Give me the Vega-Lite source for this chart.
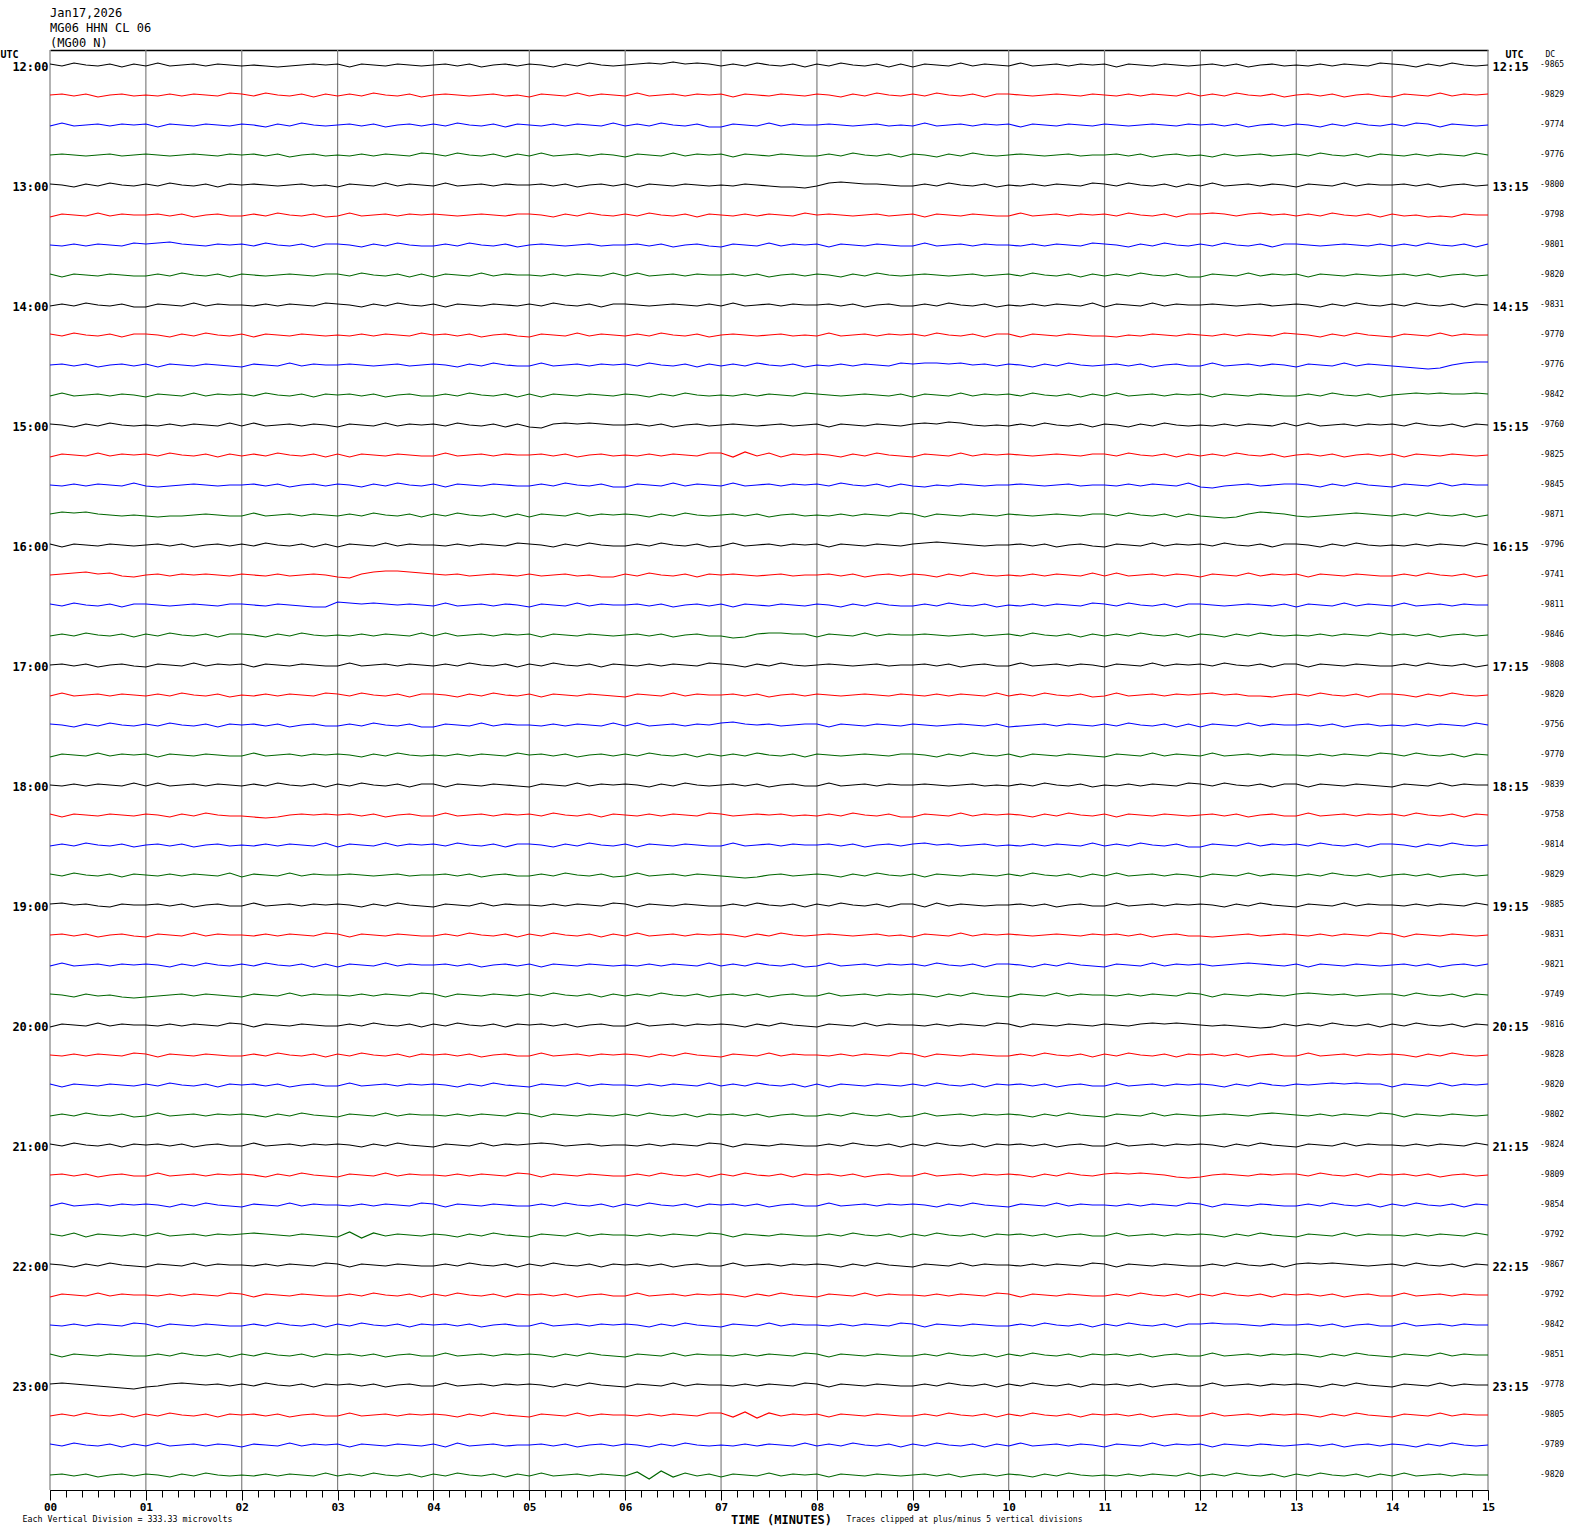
{
"$schema": "https://vega.github.io/schema/vega-lite/v6.json",
"width": 1438,
"height": 1440,
"autosize": {"type": "none"},
"padding": {"left": 50, "top": 50, "right": 82, "bottom": 44},
"background": "white",
"title": {"text": ["Jan17,2026", "MG06 HHN CL 06", "(MG00 N)"], "anchor": "start", "frame": "group", "font": "DejaVu Sans Mono", "fontSize": 12, "fontWeight": "normal", "lineHeight": 15, "offset": -1, "color": "black"},
"config": {"view": {"stroke": null}, "axis": {"labelColor": "black", "titleColor": "black", "domainColor": "black", "tickColor": "black"}},
"datasets": {
"minutes": [{"m":0},{"m":1},{"m":2},{"m":3},{"m":4},{"m":5},{"m":6},{"m":7},{"m":8},{"m":9},{"m":10},{"m":11},{"m":12},{"m":13},{"m":14},{"m":15}],
"secs": [{"s":0},{"s":900}],
"dc": [{"k":0,"dc":-9865},{"k":1,"dc":-9829},{"k":2,"dc":-9774},{"k":3,"dc":-9776},{"k":4,"dc":-9800},{"k":5,"dc":-9798},{"k":6,"dc":-9801},{"k":7,"dc":-9820},{"k":8,"dc":-9831},{"k":9,"dc":-9770},{"k":10,"dc":-9776},{"k":11,"dc":-9842},{"k":12,"dc":-9760},{"k":13,"dc":-9825},{"k":14,"dc":-9845},{"k":15,"dc":-9871},{"k":16,"dc":-9796},{"k":17,"dc":-9741},{"k":18,"dc":-9811},{"k":19,"dc":-9846},{"k":20,"dc":-9808},{"k":21,"dc":-9820},{"k":22,"dc":-9756},{"k":23,"dc":-9770},{"k":24,"dc":-9839},{"k":25,"dc":-9758},{"k":26,"dc":-9814},{"k":27,"dc":-9829},{"k":28,"dc":-9885},{"k":29,"dc":-9831},{"k":30,"dc":-9821},{"k":31,"dc":-9749},{"k":32,"dc":-9816},{"k":33,"dc":-9828},{"k":34,"dc":-9820},{"k":35,"dc":-9802},{"k":36,"dc":-9824},{"k":37,"dc":-9809},{"k":38,"dc":-9854},{"k":39,"dc":-9792},{"k":40,"dc":-9867},{"k":41,"dc":-9792},{"k":42,"dc":-9842},{"k":43,"dc":-9851},{"k":44,"dc":-9778},{"k":45,"dc":-9805},{"k":46,"dc":-9789},{"k":47,"dc":-9820}],
"traces": [
{"k":0,"q":0,"v":[1,-1,2,0,-1,1,-2,1,-1,2,-1,0,1,-1,1,0,-1,0,-1,-2,-1,0,1,0,1,-2,1,0,-1,1,0,-1,0,1,-1,1,-2,0,1,-1,1,0,-2,1,-1,2,0,-1,0,1,2,1,3,1,2,1,-1,1,-1,2,0,-1,1,-2,1,-1,2,0,-1,1,-2,1,-2,1,0,-1,2,-1,1,0,-1,2,-1,0,1,-1,1,0,1,-2,1,0,-1,1,0,-1,0,1,-1,1,-2,0,1,-1,0,-1,1,-1,1,0,-1,2,1,0,-2,1,-1,2,0,-1,0]},
{"k":1,"q":1,"v":[0,1,-1,1,-2,0,1,-1,0,-1,1,-1,1,0,-1,2,1,-1,2,0,-1,1,-2,1,-1,1,-1,2,0,-1,1,-2,0,1,0,-1,0,1,-1,0,-2,1,0,-1,2,-1,1,0,-1,2,-1,0,1,-1,1,0,1,-2,1,0,-1,1,0,-1,1,0,-2,1,-1,2,0,-1,1,-1,2,0,-1,1,-2,1,1,0,-1,0,1,0,-1,1,0,-1,1,-1,1,0,-1,2,-1,1,-1,2,0,-1,1,-2,0,1,-1,1,-2,0,1,-1,-2,1,0,-1,2,-1,1,0,1]},
{"k":2,"q":2,"v":[-1,2,-1,0,1,-1,1,0,1,-2,1,0,-1,1,0,-1,1,0,-2,1,-1,2,0,-1,0,1,-1,1,-2,0,1,-1,1,-1,2,0,-1,1,-2,1,0,-1,1,-1,1,0,-1,2,-1,1,-1,2,0,-1,1,-2,-2,1,0,-1,2,-1,1,0,0,1,0,-1,0,1,-1,0,-1,2,-1,0,1,-1,1,0,1,-2,1,0,-1,1,0,-1,1,0,-1,0,1,0,-1,1,0,1,-1,1,-2,0,1,-1,1,0,-2,1,-1,2,0,-1,1,-1,2,1,-2,1,0,-1,0]},
{"k":3,"q":3,"v":[0,1,0,-1,0,1,-1,0,1,0,-1,0,1,0,-1,1,0,1,-1,1,-2,0,1,-1,0,-1,1,-1,1,0,-1,2,1,-1,2,0,-1,1,-2,1,-1,2,-1,0,1,-1,1,0,-2,1,0,-1,2,-1,1,0,1,-2,1,0,-1,1,0,-1,-1,1,-1,2,0,-1,1,-2,1,0,-2,1,-1,2,0,-1,0,1,0,-1,0,1,-1,0,0,1,-1,1,-2,0,1,-1,0,-2,1,-1,0,1,-1,0,1,-1,2,0,-1,1,-2,1,0,-1,1,-1,1,0,-1,2,0]},
{"k":4,"q":0,"v":[1,0,-2,1,-1,2,0,-1,1,-1,2,0,-1,1,-2,1,0,1,0,-1,0,1,-1,0,-2,1,0,-1,2,-1,1,0,-1,2,-1,0,1,-1,1,0,0,1,-1,1,-2,0,1,-1,1,-2,1,0,-1,1,0,-1,0,-1,1,0,-1,-2,-2,-3,-1,2,3,2,1,1,0,-1,-1,1,-1,2,0,-1,1,-2,0,-1,1,-1,1,0,-1,2,1,-1,2,0,-1,1,-2,1,-1,2,-1,0,1,-1,1,0,-2,1,0,-1,2,-1,1,0,0,1,-1,1,-2,0,1,-1,0]},
{"k":5,"q":1,"v":[-2,1,0,-1,2,-1,1,0,0,1,-1,1,-2,0,1,-1,-1,1,-1,2,0,-1,1,-2,-1,2,-1,0,1,-1,1,0,1,0,-1,0,1,0,-1,1,1,0,-2,1,-1,2,0,-1,1,-1,2,0,-1,1,-2,1,0,-1,1,-1,1,0,-1,2,0,1,0,-1,0,1,-1,0,1,-2,1,0,-1,1,0,-1,-1,2,-1,0,1,-1,1,0,1,-1,2,0,-1,1,-2,1,1,2,1,-1,1,2,0,1,-1,1,-1,2,0,-1,1,-2,1,-1,0,-2,-1,-2,1,0,0]},
{"k":6,"q":2,"v":[0,-1,1,-1,1,0,-1,2,1,2,3,1,0,-1,1,0,1,-1,2,0,-1,1,-2,1,1,0,-2,1,-1,2,0,-1,-1,1,-1,2,0,-1,1,-2,0,1,0,-1,0,1,-1,0,0,1,-1,1,-2,0,1,-1,-2,1,0,-1,2,-1,1,0,1,-2,1,0,-1,1,0,-1,-1,2,-1,0,1,-1,1,0,0,-1,1,-1,1,0,-1,2,1,0,-2,1,-1,2,0,-1,1,-1,2,0,-1,1,-2,1,1,0,-1,0,1,0,-1,1,-1,1,-1,2,0,-1,1,-2,1]},
{"k":7,"q":3,"v":[1,-2,1,0,-1,1,0,-1,-1,1,-1,2,0,-1,1,-2,1,0,-1,0,1,0,-1,1,1,-1,2,0,-1,1,-2,1,-2,1,0,-1,2,-1,1,0,0,-1,1,-1,1,0,-1,2,-1,2,-1,0,1,-1,1,0,0,1,-1,1,-2,0,1,-1,1,0,-2,1,-1,2,0,-1,0,1,0,-1,0,1,-1,0,1,-1,2,0,-1,1,-2,1,-1,1,-1,2,0,-1,1,-2,-2,1,0,-1,2,-1,1,0,1,-2,1,0,-1,1,0,-1,0,1,-1,1,-2,0,1,-1,0]},
{"k":8,"q":0,"v":[-1,1,-1,2,0,-1,1,-2,-2,1,0,-1,2,-1,1,0,0,-1,1,-1,1,0,-1,2,1,0,-2,1,-1,2,0,-1,1,-2,1,0,-1,1,0,-1,1,-1,2,0,-1,1,-2,1,1,0,-1,0,1,0,-1,1,-1,2,-1,0,1,-1,1,0,0,1,-1,1,-2,0,1,-1,-1,1,-1,2,0,-1,1,-2,0,-1,1,-1,1,0,-1,2,-2,1,0,-1,2,-1,1,0,0,1,0,-1,0,1,-1,0,1,0,-2,1,-1,2,0,-1,1,-1,2,0,-1,1,-2,1,0]},
{"k":9,"q":1,"v":[1,-1,2,0,-1,1,-2,1,1,0,-2,1,-1,2,0,-1,1,-2,1,0,-1,1,0,-1,0,-1,1,-1,1,0,-1,2,0,1,-1,1,-2,0,1,-1,-2,1,0,-1,2,-1,1,0,-1,1,-1,2,0,-1,1,-2,0,1,0,-1,0,1,-1,0,-1,2,-1,0,1,-1,1,0,1,-1,2,0,-1,1,-2,1,1,-2,1,0,-1,1,0,-1,-1,-2,0,-1,1,0,-1,1,0,-1,1,-1,1,0,-1,2,1,0,-2,1,-1,2,0,-1,-2,1,0,-1,2,-1,1,0,0]},
{"k":10,"q":2,"v":[0,1,-1,1,-2,0,1,-1,1,-2,1,0,-1,1,0,-1,-2,1,0,-1,2,-1,1,0,0,1,0,-1,0,1,-1,0,1,0,-2,1,-1,2,0,-1,-1,2,-1,0,1,-1,1,0,1,-1,2,0,-1,1,-2,1,-1,1,-1,2,0,-1,1,-2,0,-1,1,-1,1,0,-1,2,1,2,2,1,2,0,1,-1,1,0,-2,1,-1,2,0,-1,0,1,-1,1,-2,0,1,-1,-1,2,-1,0,1,-1,1,0,-2,1,0,-1,2,-1,1,0,-1,-2,-3,-4,-3,0,2,3,3]},
{"k":11,"q":3,"v":[-1,2,-1,0,1,-1,1,0,-2,1,0,-1,2,-1,1,0,1,-1,2,0,-1,1,-2,1,0,1,-1,1,-2,0,1,-1,-1,1,-1,2,0,-1,1,-2,1,-2,1,0,-1,1,0,-1,1,0,-2,1,-1,2,0,-1,0,-1,1,-1,1,0,-1,2,1,0,-1,0,1,0,-1,1,-2,1,0,-1,2,-1,1,0,1,-1,2,0,-1,1,-2,1,-1,2,-1,0,1,-1,1,0,1,-2,1,0,-1,1,0,-1,-1,1,-1,2,0,-1,1,-2,0,1,2,1,2,1,1,2,1]},
{"k":12,"q":0,"v":[1,0,-2,1,-1,2,0,-1,0,-1,1,-1,1,0,-1,2,-1,2,-1,0,1,-1,1,0,-2,1,0,-1,2,-1,1,0,1,-1,2,0,-1,1,-2,1,-2,-3,1,2,1,2,1,0,0,1,-1,1,-2,0,1,-1,0,1,0,-1,0,1,-1,0,1,-2,1,0,-1,1,0,-1,1,2,1,3,2,0,-1,0,-1,1,-1,2,0,-1,1,-2,1,0,-2,1,-1,2,0,-1,0,-1,1,-1,1,0,-1,2,-1,2,-1,0,1,-1,1,0,1,-1,2,0,-1,1,-2,1,0]},
{"k":13,"q":1,"v":[-2,1,0,-1,2,-1,1,0,1,-1,2,0,-1,1,-2,1,-1,1,-1,2,0,-1,1,-2,1,-2,1,0,-1,1,0,-1,-1,2,-1,0,1,-1,1,0,0,1,-1,1,-2,0,1,-1,0,-1,1,-1,1,0,-1,2,2,-2,3,-1,2,-2,1,0,1,0,-2,1,-1,2,0,-1,-2,1,0,-1,2,-1,1,0,1,0,-1,0,1,0,-1,1,1,-1,2,0,-1,1,-2,1,-1,1,-1,2,0,-1,1,-2,0,1,-1,1,-2,0,1,-1,1,-2,1,0,-1,1,0,-1,0]},
{"k":14,"q":2,"v":[0,-1,1,-1,1,0,-1,2,-1,-2,-1,0,1,0,-1,0,0,1,-1,1,-2,0,1,-1,1,0,-2,1,-1,2,0,-1,1,-2,1,0,-1,1,0,-1,-1,1,-1,2,0,-1,1,-2,-2,1,0,-1,2,-1,1,0,-1,2,-1,0,1,-1,1,0,1,-1,2,0,-1,1,-2,1,-1,-2,0,-1,1,0,-1,0,0,1,0,-1,0,1,-1,0,0,-1,1,-1,1,0,-1,2,-2,-3,-1,0,1,-1,0,1,1,0,-2,1,-1,2,0,-1,-2,1,0,-1,2,-1,1,0,0]},
{"k":15,"q":3,"v":[1,3,2,3,1,0,-1,0,-1,-2,-1,-1,0,1,0,-1,-1,2,-1,0,1,-1,1,0,-1,1,-1,2,0,-1,1,-2,1,-1,2,0,-1,1,-2,1,-2,1,0,-1,2,-1,1,0,1,0,-2,1,-1,2,0,-1,0,1,-1,1,-2,0,1,-1,0,-1,1,-1,1,0,-1,2,1,-2,1,0,-1,1,0,-1,1,0,-1,0,1,0,-1,1,1,-1,2,0,-1,1,-2,1,-1,-2,-3,-2,1,3,2,1,-1,-2,-1,0,1,2,1,0,-1,1,-1,2,0,-1,1,-2,0]},
{"k":16,"q":0,"v":[1,-2,1,0,-1,1,0,-1,0,1,-1,1,-2,0,1,-1,1,-1,2,0,-1,1,-2,1,-2,1,0,-1,2,-1,1,0,0,-1,1,-1,1,0,-1,2,1,0,-2,1,-1,2,0,-1,-1,1,-1,2,0,-1,1,-2,-1,2,-1,0,1,-1,1,0,1,-2,1,0,-1,1,0,-1,1,2,3,2,1,0,-1,0,0,1,-1,1,-2,0,1,-1,-2,1,0,-1,2,-1,1,0,1,-1,2,0,-1,1,-2,1,1,0,-2,1,-1,2,0,-1,0,-1,1,-1,1,0,-1,2,0]},
{"k":17,"q":1,"v":[0,1,2,3,1,2,-1,-2,0,1,-1,1,0,1,0,-1,1,0,-1,1,-1,0,1,0,-2,-3,1,3,4,4,3,2,1,0,1,-1,0,1,0,-1,1,-1,0,1,-1,0,-2,-2,1,-1,2,0,-1,1,-2,1,0,1,0,-1,0,1,-1,0,0,1,-1,1,-2,0,1,-1,1,0,-2,1,-1,2,0,-1,0,-1,1,-1,1,0,-1,2,-1,2,-1,0,1,-1,1,0,-2,1,0,-1,2,-1,1,0,1,-2,1,0,-1,1,0,-1,-1,1,-1,2,0,-1,1,-2,0]},
{"k":18,"q":2,"v":[1,-1,2,0,-1,1,-2,1,1,0,-1,0,1,0,-1,1,1,0,-1,1,0,-1,-2,-2,3,2,1,2,1,0,1,0,-1,2,-1,0,1,-1,1,0,-2,1,0,-1,2,-1,1,0,0,1,-1,1,-2,0,1,-1,1,-2,1,0,-1,1,0,-1,1,0,-2,1,-1,2,0,-1,-1,1,-1,2,0,-1,1,-2,0,-1,1,-1,1,0,-1,2,1,-1,2,0,-1,1,-2,1,1,0,-1,0,1,0,-1,1,-2,1,0,-1,2,-1,1,0,-1,2,-1,0,1,-1,1,0,0]},
{"k":19,"q":3,"v":[-1,1,-1,2,0,-1,1,-2,1,-1,2,0,-1,1,-2,1,1,0,-2,1,-1,2,0,-1,0,-1,1,-1,1,0,-1,2,-1,2,-1,0,1,-1,1,0,1,-2,1,0,-1,1,0,-1,0,1,-1,1,-2,0,1,-1,-1,-3,-2,1,2,2,1,1,-2,1,0,-1,2,-1,1,0,0,1,0,-1,0,1,-1,0,1,-1,2,0,-1,1,-2,1,-1,1,-1,2,0,-1,1,-2,1,0,-2,1,-1,2,0,-1,0,-1,1,-1,1,0,-1,2,0,1,-1,1,-2,0,1,-1,0]},
{"k":20,"q":0,"v":[0,1,-1,1,-2,0,1,-1,-2,1,0,-1,2,-1,1,0,1,-2,1,0,-1,1,0,-1,-1,2,-1,0,1,-1,1,0,-1,1,-1,2,0,-1,1,-2,1,-1,2,0,-1,1,-2,1,0,-1,1,-1,1,0,-1,2,1,0,-2,1,-1,2,0,-1,0,1,0,-1,0,1,-1,0,0,1,-1,1,-2,0,1,-1,-1,2,-1,0,1,-1,1,0,-2,1,0,-1,2,-1,1,0,1,-1,2,0,-1,1,-2,1,1,-2,1,0,-1,1,0,-1,-1,1,-1,2,0,-1,1,-2,0]},
{"k":21,"q":1,"v":[-1,2,-1,0,1,-1,1,0,-1,1,-1,2,0,-1,1,-2,0,-1,1,-1,1,0,-1,2,1,-1,2,0,-1,1,-2,1,1,0,-2,1,-1,2,0,-1,1,-2,1,0,-1,1,0,-1,-2,1,0,-1,2,-1,1,0,0,1,-1,1,-2,0,1,-1,1,0,-1,0,1,0,-1,1,0,-1,1,-1,1,0,-1,2,-1,1,-1,2,0,-1,1,-2,-1,2,-1,0,1,-1,1,0,1,2,0,1,-1,-1,-2,0,1,-1,2,0,-1,1,-2,1,1,0,-2,1,-1,2,0,-1,0]},
{"k":22,"q":2,"v":[1,0,-2,1,-1,2,0,-1,1,-1,2,0,-1,1,-2,1,0,1,-1,1,-2,0,1,-1,-1,1,-1,2,0,-1,1,-2,-2,1,0,-1,2,-1,1,0,0,-1,1,-1,1,0,-1,2,-1,2,-1,0,1,-1,1,0,2,3,1,0,1,-1,0,1,1,-2,1,0,-1,1,0,-1,1,0,-1,0,1,0,-1,1,-2,-1,0,1,-1,1,0,-1,1,-1,2,0,-1,1,-2,1,-2,1,0,-1,2,-1,1,0,0,1,-1,1,-2,0,1,-1,0,-1,1,-1,1,0,-1,2,0]},
{"k":23,"q":3,"v":[-2,1,0,-1,2,-1,1,0,1,-2,1,0,-1,1,0,-1,-1,2,-1,0,1,-1,1,0,1,0,-2,1,-1,2,0,-1,0,-1,1,-1,1,0,-1,2,0,1,-1,1,-2,0,1,-1,1,-1,2,0,-1,1,-2,1,-1,1,-1,2,0,-1,1,-2,1,0,-1,0,1,0,-1,1,1,0,-2,1,-1,2,0,-1,1,-2,1,0,-1,1,0,-1,-2,1,0,-1,2,-1,1,0,-1,2,-1,0,1,-1,1,0,0,-1,1,-1,1,0,-1,2,1,-1,2,0,-1,1,-2,1,0]},
{"k":24,"q":0,"v":[0,-1,1,-1,1,0,-1,2,-1,2,-1,0,1,-1,1,0,-1,1,-1,2,0,-1,1,-2,1,-1,2,0,-1,1,-2,1,1,-2,1,0,-1,1,0,-1,-2,1,0,-1,2,-1,1,0,1,0,-2,1,-1,2,0,-1,0,1,-1,1,-2,0,1,-1,-1,2,-1,0,1,-1,1,0,0,1,0,-1,0,1,-1,0,-1,1,-1,2,0,-1,1,-2,0,-1,1,-1,1,0,-1,2,1,-1,2,0,-1,1,-2,1,1,-2,1,0,-1,1,0,-1,-2,1,0,-1,2,-1,1,0,0]},
{"k":25,"q":1,"v":[1,-2,1,0,-1,1,0,-1,1,0,-2,1,-1,2,0,-1,-1,-2,-3,-2,0,1,0,1,0,1,-1,1,-2,0,1,-1,-1,2,-1,0,1,-1,1,0,1,-1,2,0,-1,1,-2,1,0,-1,1,-1,1,0,-1,2,1,-1,0,1,0,1,-1,0,-1,1,-1,2,0,-1,1,-2,-2,1,0,-1,2,-1,1,0,1,0,-2,1,-1,2,0,-1,1,-2,1,0,-1,1,0,-1,0,1,-1,1,-2,0,1,-1,-1,2,-1,0,1,-1,1,0,1,-1,2,0,-1,1,-2,1,0]},
{"k":26,"q":2,"v":[-1,1,-1,2,0,-1,1,-2,0,1,-1,1,-2,0,1,-1,0,-1,1,-1,1,0,-1,2,-2,1,0,-1,2,-1,1,0,1,-1,2,0,-1,1,-2,1,1,0,-2,1,-1,2,0,-1,1,-2,1,0,-1,1,0,-1,-1,2,-1,0,1,-1,1,0,0,1,-1,1,-2,0,1,-1,1,2,0,1,-1,0,1,-1,0,-1,1,-1,1,0,-1,2,-1,1,-1,2,0,-1,1,-2,-2,1,0,-1,2,-1,1,0,1,-1,2,0,-1,1,-2,1,1,0,-2,1,-1,2,0,-1,0]},
{"k":27,"q":3,"v":[1,-1,2,0,-1,1,-2,1,0,-1,1,-1,1,0,-1,2,-2,1,0,-1,2,-1,1,0,0,1,0,-1,0,1,-1,0,0,1,-1,1,-2,0,1,-1,-1,1,-1,2,0,-1,1,-2,-1,2,-1,0,1,-1,1,0,-1,-2,-3,-2,0,1,-1,0,1,0,-2,1,-1,2,0,-1,1,-2,1,0,-1,1,0,-1,1,-1,2,0,-1,1,-2,1,-1,2,-1,0,1,-1,1,0,-2,1,0,-1,2,-1,1,0,-1,1,-1,2,0,-1,1,-2,0,1,-1,1,-2,0,1,-1,0]},
{"k":28,"q":0,"v":[1,2,0,1,-1,-2,1,0,0,1,-1,1,-2,0,1,-1,-1,2,-1,0,1,-1,1,0,1,0,-2,1,-1,2,0,-1,-2,1,0,-1,2,-1,1,0,0,-1,1,-1,1,0,-1,2,1,-2,1,0,-1,1,0,-1,-1,1,-1,2,0,-1,1,-2,1,-1,2,0,-1,1,-2,1,1,-2,2,-1,1,0,-1,0,0,1,-1,1,-2,0,1,-1,-1,2,-1,0,1,-1,1,0,1,0,-2,1,-1,2,0,-1,-2,1,0,-1,2,-1,1,0,0,-1,1,-1,1,0,-1,2,0]},
{"k":29,"q":1,"v":[0,1,-1,1,-2,0,1,-1,-2,1,0,-1,2,-1,1,0,0,-1,1,-1,1,0,-1,2,1,-2,1,0,-1,1,0,-1,-1,1,-1,2,0,-1,1,-2,1,-1,2,0,-1,1,-2,1,-1,2,-1,0,1,-1,1,0,1,0,-2,1,-1,2,0,-1,0,1,0,-1,0,1,-1,0,-2,1,0,-1,2,-1,1,0,1,0,-1,0,1,0,-1,1,0,1,-1,1,-2,0,1,-1,-1,-2,-1,0,1,-1,0,1,0,-1,1,-1,1,0,-1,2,1,-2,1,0,-1,1,0,-1,0]},
{"k":30,"q":2,"v":[-1,2,-1,0,1,-1,1,0,1,0,-2,1,-1,2,0,-1,1,-1,2,0,-1,1,-2,1,-2,1,0,-1,2,-1,1,0,0,1,-1,1,-2,0,1,-1,1,-2,1,0,-1,1,0,-1,0,-1,1,-1,1,0,-1,2,-1,1,-1,2,0,-1,1,-2,-1,2,-1,0,1,-1,1,0,1,-1,2,0,-1,1,-2,1,1,0,-2,1,-1,2,0,-1,-2,1,0,-1,2,-1,1,0,1,-1,0,1,2,1,0,-1,1,-2,1,0,-1,1,0,-1,0,1,-1,1,-2,0,1,-1,1]},
{"k":31,"q":3,"v":[1,0,-2,1,-1,0,-2,-3,-2,-1,0,1,-1,1,0,-1,-2,1,0,-1,2,-1,1,0,0,-1,1,-1,1,0,-1,2,1,-2,1,0,-1,1,0,-1,1,-1,2,0,-1,1,-2,1,-1,1,-1,2,0,-1,1,-2,0,1,-1,1,-2,0,1,-1,-1,2,-1,0,1,-1,1,0,1,0,-2,1,-1,2,0,-1,-2,1,0,-1,2,-1,1,0,0,-1,1,-1,1,0,-1,2,1,-2,1,0,-1,1,0,-1,1,2,1,0,1,-1,0,1,1,-1,2,0,-1,1,-2,1,0]},
{"k":32,"q":0,"v":[-2,1,0,-1,2,-1,1,0,0,-1,1,-1,1,0,-1,2,1,-2,1,0,-1,1,0,-1,-1,1,-1,2,0,-1,1,-2,1,-1,2,0,-1,1,-2,1,0,1,-1,1,-2,0,1,-1,-1,2,-1,0,1,-1,1,0,1,0,-2,1,-1,2,0,-1,-2,1,0,-1,2,-1,1,0,0,-1,1,-1,1,0,-1,2,1,-2,1,0,-1,1,0,-1,1,0,-1,1,2,1,2,1,0,-1,0,-1,-2,-3,-2,1,-1,1,-1,2,0,-1,1,-2,1,-1,2,0,-1,1,-2,1,0]},
{"k":33,"q":1,"v":[0,-1,1,-1,1,0,-1,2,1,-2,1,0,-1,1,0,-1,-1,1,-1,2,0,-1,1,-2,1,-1,2,0,-1,1,-2,1,0,1,-1,1,-2,0,1,-1,-1,2,-1,0,1,-1,1,0,1,0,-2,1,-1,2,0,-1,-2,1,0,-1,2,-1,1,0,0,-1,1,-1,1,0,-1,2,1,-2,1,0,-1,1,0,-1,-1,1,-1,2,0,-1,1,-2,1,-1,2,0,-1,1,-2,1,0,1,-1,1,-2,0,1,-1,-1,2,-1,0,1,-1,1,0,1,0,-2,1,-1,2,0,-1,0]},
{"k":34,"q":2,"v":[1,-2,1,0,-1,1,0,-1,1,-1,2,0,-1,1,-2,1,0,1,-1,1,-2,0,1,-1,-1,2,-1,0,1,-1,1,0,1,0,-2,1,-1,2,0,-1,-2,1,0,-1,2,-1,1,0,0,-1,1,-1,1,0,-1,2,-1,1,-1,2,0,-1,1,-2,1,-2,1,0,-1,1,0,-1,1,-1,2,0,-1,1,-2,1,0,1,-1,1,-2,0,1,-1,-1,2,-1,0,1,-1,1,0,1,0,-2,1,-1,2,0,-1,1,0,1,2,1,2,1,1,-2,1,0,-1,2,-1,1,0,1]},
{"k":35,"q":3,"v":[-1,1,-1,2,0,-1,1,-2,-1,2,-1,0,1,-1,1,0,1,0,-2,1,-1,2,0,-1,-2,1,0,-1,2,-1,1,0,0,-1,1,-1,1,0,-1,2,1,-2,1,0,-1,1,0,-1,1,-1,2,0,-1,1,-2,1,0,1,-1,1,-2,0,1,-1,-1,1,-1,2,0,-1,1,-2,-1,2,-1,0,1,-1,1,0,1,0,-2,1,-1,2,0,-1,-2,1,0,-1,2,-1,1,0,-1,0,1,0,-1,1,2,1,0,-1,1,-1,1,0,-1,2,1,-2,1,0,-1,1,0,-1,0]},
{"k":36,"q":0,"v":[1,-1,2,0,-1,1,-2,1,0,1,-1,1,-2,0,1,-1,-1,2,-1,0,1,-1,1,0,1,0,-2,1,-1,2,0,-1,-2,1,0,-1,2,-1,1,0,1,2,1,-1,0,1,-1,0,0,-1,1,-1,1,0,-1,2,1,-2,1,0,-1,1,0,-1,-1,1,-1,2,0,-1,1,-2,1,-1,2,0,-1,1,-2,1,0,1,-1,1,-2,0,1,-1,-1,2,-1,0,1,-1,1,0,1,0,-2,1,-1,2,0,-1,-2,1,0,-1,2,-1,1,0,0,-1,1,-1,1,0,-1,2,0]},
{"k":37,"q":1,"v":[0,1,-1,1,-2,0,1,-1,-1,2,-1,0,1,-1,1,0,1,0,-2,1,-1,2,0,-1,-2,1,0,-1,2,-1,1,0,0,-1,1,-1,1,0,-1,2,1,-2,1,0,-1,1,0,-1,-1,1,-1,2,0,-1,1,-2,1,-1,2,0,-1,1,-2,1,0,1,-1,1,-2,0,1,-1,-1,2,-1,0,1,-1,1,0,1,0,-2,1,-1,2,0,-1,1,2,1,2,1,0,-2,-3,-2,0,1,0,-1,1,0,1,1,-1,2,0,-1,1,-2,1,0,1,-1,1,-2,0,1,-1,0]},
{"k":38,"q":2,"v":[-1,2,-1,0,1,-1,1,0,1,0,-2,1,-1,2,0,-1,-2,1,0,-1,2,-1,1,0,0,-1,1,-1,1,0,-1,2,1,-2,1,0,-1,1,0,-1,-1,1,-1,2,0,-1,1,-2,1,-1,2,0,-1,1,-2,1,0,1,-1,1,-2,0,1,-1,-1,2,-1,0,1,-1,1,0,1,0,-2,1,-1,2,0,-1,-2,1,0,-1,2,-1,1,0,0,-1,1,-1,1,0,-1,2,1,-2,1,0,-1,1,0,-1,-1,1,-1,2,0,-1,1,-2,1,-1,2,0,-1,1,-2,1,0]},
{"k":39,"q":3,"v":[1,-1,2,-2,1,0,-1,1,-1,2,-1,0,1,-1,1,0,1,2,1,0,-1,1,0,-1,-2,3,-3,2,-1,1,0,-1,1,0,-2,1,-1,2,0,-1,-2,1,0,-1,2,-1,1,0,0,-1,1,-1,1,0,-1,2,1,-2,1,0,-1,1,0,-1,-1,1,-1,2,0,-1,1,-2,1,-1,2,0,-1,1,-2,1,0,1,-1,1,-2,0,1,-1,-1,2,-1,0,1,-1,1,0,1,0,-2,1,-1,2,0,-1,-2,1,0,-1,2,-1,1,0,0,-1,1,-1,1,0,-1,2,0]},
{"k":40,"q":0,"v":[1,0,-2,1,-1,2,0,-1,-2,1,0,-1,2,-1,1,0,0,-1,1,-1,1,0,-1,2,1,-2,1,0,-1,1,0,-1,-1,1,-1,2,0,-1,1,-2,1,-1,2,0,-1,1,-2,1,0,1,-1,1,-2,0,1,-1,-1,2,-1,0,1,-1,1,0,1,0,-2,1,-1,2,0,-1,-2,1,0,-1,2,-1,1,0,0,-1,1,-1,1,0,-1,2,1,-2,1,0,-1,1,0,-1,-1,1,-1,2,0,-1,1,-2,1,2,1,2,1,0,-1,0,1,-1,2,0,-1,1,-2,1,0]},
{"k":41,"q":1,"v":[-2,1,0,-1,2,-1,1,0,0,-1,1,-1,1,0,-1,2,1,-2,1,0,-1,1,0,-1,-1,1,-1,2,0,-1,1,-2,1,-1,2,0,-1,1,-2,1,0,1,-1,1,-2,0,1,-1,-1,2,-1,0,1,-1,1,0,1,0,-2,1,-1,2,0,-1,-2,1,0,-1,2,-1,1,0,0,-1,1,-1,1,0,-1,2,1,-2,1,0,-1,1,0,-1,-1,1,-1,2,0,-1,1,-2,1,-1,2,0,-1,1,-2,1,0,1,-1,1,-2,0,1,-1,-1,2,-1,0,1,-1,1,0,0]},
{"k":42,"q":2,"v":[0,-1,1,-1,1,0,-1,2,1,-2,1,0,-1,1,0,-1,-1,1,-1,2,0,-1,1,-2,1,-1,2,0,-1,1,-2,1,0,1,-1,1,-2,0,1,-1,-1,2,-1,0,1,-1,1,0,1,0,-2,1,-1,2,0,-1,-2,1,0,-1,2,-1,1,0,0,-1,1,-1,1,0,-1,2,1,-2,1,0,-1,1,0,-1,-1,1,-1,2,0,-1,1,-2,1,-1,2,0,-1,1,-2,1,1,2,1,1,0,-1,1,0,0,1,-1,1,-2,0,1,-1,-1,2,-1,0,1,-1,1,0,0]},
{"k":43,"q":3,"v":[1,-2,1,0,-1,1,0,-1,-1,1,-1,2,0,-1,1,-2,1,-1,2,0,-1,1,-2,1,0,1,-1,1,-2,0,1,-1,-1,2,-1,0,1,-1,1,0,1,0,-2,1,-1,2,0,-1,-2,1,0,-1,2,-1,1,0,0,-1,1,-1,1,0,-1,2,1,-2,1,0,-1,1,0,-1,-1,1,-1,2,0,-1,1,-2,1,-1,2,0,-1,1,-2,1,0,1,-1,1,-2,0,1,-1,-1,2,-1,0,1,-1,1,0,1,0,-2,1,-1,2,0,-1,-2,1,0,-1,2,-1,1,0,0]},
{"k":44,"q":0,"v":[1,2,1,0,-1,-2,-3,-4,-2,-1,1,2,1,0,1,-1,1,-1,2,0,-1,1,-2,1,0,1,-1,1,-2,0,1,-1,-1,2,-1,0,1,-1,1,0,1,0,-2,1,-1,2,0,-1,-2,1,0,-1,2,-1,1,0,0,-1,1,-1,1,0,-1,2,1,-2,1,0,-1,1,0,-1,-1,1,-1,2,0,-1,1,-2,1,-1,2,0,-1,1,-2,1,0,1,-1,1,-2,0,1,-1,-1,2,-1,0,1,-1,1,0,1,0,-2,1,-1,2,0,-1,-2,1,0,-1,2,-1,1,0,0]},
{"k":45,"q":1,"v":[-1,1,-1,2,0,-1,1,-2,1,-1,2,0,-1,1,-2,1,0,1,-1,1,-2,0,1,-1,-1,2,-1,0,1,-1,1,0,1,0,-2,1,-1,2,0,-1,-2,1,0,-1,2,-1,1,0,0,-1,1,-1,1,0,-1,2,2,-2,3,-3,2,-1,1,0,1,-2,1,0,-1,1,0,-1,-1,1,-1,2,0,-1,1,-2,1,-1,2,0,-1,1,-2,1,0,1,-1,1,-2,0,1,-1,-1,2,-1,0,1,-1,1,0,1,0,-2,1,-1,2,0,-1,-2,1,0,-1,2,-1,1,0,0]},
{"k":46,"q":2,"v":[1,-1,2,0,-1,1,-2,1,-1,2,-1,0,1,-1,1,0,-2,1,0,-1,2,-1,1,0,1,-2,1,0,-1,1,0,-1,1,-2,2,-1,0,1,-1,0,0,1,-1,1,-2,0,1,-1,1,0,-2,1,-1,2,0,-1,0,-1,1,-1,1,0,-1,2,-1,1,-1,2,0,-1,1,-2,1,-1,2,0,-1,1,-2,1,-1,2,-1,0,1,-1,1,0,-2,1,0,-1,2,-1,1,0,1,-2,1,0,-1,1,0,-1,0,1,-1,1,-2,0,1,-1,1,0,-2,1,-1,2,0,-1,0]},
{"k":47,"q":3,"v":[0,1,-1,1,-2,0,1,-1,1,0,-2,1,-1,2,0,-1,0,-1,1,-1,1,0,-1,2,-1,1,-1,2,0,-1,1,-2,1,-1,2,0,-1,1,-2,1,-1,2,-1,0,1,-1,1,0,-1,3,-4,4,-2,2,-1,1,-2,1,0,-1,2,-1,1,0,1,-2,1,0,-1,1,0,-1,0,1,-1,1,-2,0,1,-1,1,0,-2,1,-1,2,0,-1,0,-1,1,-1,1,0,-1,2,-1,1,-1,2,0,-1,1,-2,1,-1,2,0,-1,1,-2,1,-1,2,-1,0,1,-1,1,0,0]}
]
},
"resolve": {"scale": {"x": "independent", "y": "shared"}, "axis": {"x": "independent", "y": "independent"}},
"layer": [
{
"data": {"name": "minutes"},
"mark": {"type": "rule", "color": "#808080", "strokeWidth": 1.2},
"encoding": {
"x": {"field": "m", "type": "quantitative", "scale": {"domain": [0, 15], "nice": false, "zero": false},
"axis": {"orient": "bottom", "values": [0,1,2,3,4,5,6,7,8,9,10,11,12,13,14,15], "format": "02d", "grid": false, "tickSize": 10, "tickWidth": 1, "domainWidth": 1, "labelFont": "DejaVu Sans Mono", "labelFontWeight": "bold", "labelFontSize": 11, "labelPadding": 1, "labelFlush": false, "labelOverlap": false, "title": "TIME (MINUTES)", "titleFont": "DejaVu Sans Mono", "titleFontWeight": "bold", "titleFontSize": 12, "titleX": 731, "titleY": 29, "titleAlign": "center", "titleBaseline": "middle"}}
}
},
{
"data": {"name": "secs"},
"mark": {"type": "rule", "opacity": 0},
"encoding": {
"x": {"field": "s", "type": "quantitative", "scale": {"domain": [0, 900], "nice": false, "zero": false},
"axis": {"orient": "bottom", "tickCount": 90, "labels": false, "domain": false, "grid": false, "tickSize": 7, "tickWidth": 1, "title": "Each Vertical Division =  333.33 microvolts", "titleFont": "DejaVu Sans Mono", "titleFontWeight": "normal", "titleFontSize": 8.3, "titleX": 77, "titleY": 29, "titleAlign": "center", "titleBaseline": "middle"}}
}
},
{
"data": {"name": "traces"},
"transform": [
{"flatten": ["v"]},
{"window": [{"op": "row_number", "as": "i"}], "groupby": ["k"]}
],
"mark": {"type": "line", "strokeWidth": 1.2},
"encoding": {
"x": {"field": "i", "type": "quantitative", "scale": {"domain": [1, 121], "nice": false, "zero": false},
"axis": {"orient": "top", "domain": true, "domainWidth": 1.5, "ticks": false, "labels": false, "grid": false, "title": "DC", "titleFont": "DejaVu Sans Mono", "titleFontWeight": "normal", "titleFontSize": 8, "titleX": 1495, "titleY": 4, "titleAlign": "left", "titleBaseline": "middle"}},
"y": {"field": "k", "type": "ordinal", "scale": {"paddingInner": 0, "paddingOuter": 0},
"axis": {"orient": "left", "values": [0,4,8,12,16,20,24,28,32,36,40,44], "labelExpr": "(12 + datum.value / 4) + ':00'", "ticks": false, "domain": false, "grid": false, "labelFont": "DejaVu Sans Mono", "labelFontWeight": "bold", "labelFontSize": 12, "labelPadding": 2, "labelOffset": 2, "title": "UTC", "titleAngle": 0, "titleX": -50, "titleY": 4, "titleAlign": "left", "titleBaseline": "middle", "titleFont": "DejaVu Sans Mono", "titleFontSize": 10, "titleFontWeight": "bold"}},
"yOffset": {"field": "v", "type": "quantitative", "scale": {"domain": [-15, 15], "reverse": true, "nice": false, "zero": false}},
"color": {"field": "q", "type": "nominal", "scale": {"domain": [0, 1, 2, 3], "range": ["#000000", "#ff0000", "#0000ff", "#006600"]}, "legend": null},
"detail": {"field": "k"},
"order": {"field": "i", "type": "quantitative"}
}
},
{
"data": {"name": "dc"},
"mark": {"type": "text", "align": "left", "baseline": "middle", "dx": 52, "fontSize": 8, "font": "DejaVu Sans Mono", "color": "black"},
"encoding": {
"x": {"datum": 1, "type": "quantitative", "scale": {"domain": [0, 1], "nice": false, "zero": false},
"axis": {"orient": "bottom", "domain": false, "ticks": false, "labels": false, "grid": false, "title": "Traces clipped at plus/minus 5 vertical divisions", "titleFont": "DejaVu Sans Mono", "titleFontWeight": "normal", "titleFontSize": 8, "titleX": 914, "titleY": 29, "titleAlign": "center", "titleBaseline": "middle"}},
"y": {"field": "k", "type": "ordinal",
"axis": {"orient": "right", "values": [0,4,8,12,16,20,24,28,32,36,40,44], "labelExpr": "(12 + datum.value / 4) + ':15'", "ticks": false, "domain": false, "grid": false, "labelFont": "DejaVu Sans Mono", "labelFontWeight": "bold", "labelFontSize": 12, "labelPadding": 4, "labelOffset": 2, "title": "UTC", "titleAngle": 0, "titleX": 17, "titleY": 4, "titleAlign": "left", "titleBaseline": "middle", "titleFont": "DejaVu Sans Mono", "titleFontSize": 10, "titleFontWeight": "bold"}},
"text": {"field": "dc", "type": "nominal"}
}
}
]
}
